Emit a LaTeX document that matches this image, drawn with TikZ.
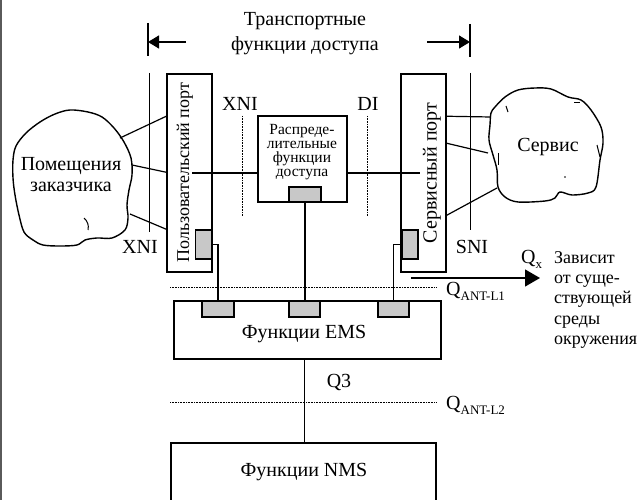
\documentclass[tikz,border=0pt]{standalone}
\usepackage{fontspec}
\setmainfont{Liberation Serif}
\usetikzlibrary{arrows.meta,calc}

\definecolor{padgray}{RGB}{200,200,200}
\definecolor{edgegray}{RGB}{90,90,90}

\tikzset{
  box/.style={draw, line width=1.5pt, fill=white, inner sep=0pt},
  pad/.style={draw, line width=1.3pt, fill=padgray, inner sep=0pt},
  wire/.style={line width=1.2pt},
  guide/.style={line width=0.8pt},
  dots/.style={line width=0.7pt, dash pattern=on 0.8pt off 0.8pt},
  cloudline/.style={line width=1.4pt, line join=round},
  lbl/.style={font=\fontsize{20}{21}\selectfont, inner sep=0pt},
  small/.style={font=\fontsize{15.5}{14}\selectfont, inner sep=0pt, align=center},
  side/.style={font=\fontsize{18}{20.3}\selectfont, inner sep=0pt, align=left},
  tip/.style={-{Triangle[length=11pt,width=13pt]}, line width=1.3pt}
}

\newcommand{\Qsub}[1]{Q\raisebox{-5pt}{\fontsize{13}{13}\selectfont #1}}

\begin{document}
\begin{tikzpicture}[x=1pt,y=-1pt]
\useasboundingbox (0,0) rectangle (638,500);
\clip (0,0) rectangle (638,500);

% frame edge on the left
\draw[edgegray, line width=1.6pt] (1,0) -- (1,500);

% title and its span arrows
\node[lbl, align=center, font=\fontsize{20}{25}\selectfont] (title) at (305,34) {Транспортные\\функции доступа};
\coordinate (lbtop) at (148,23);  \coordinate (lbbot) at (148,56);
\coordinate (rbtop) at (470,24);  \coordinate (rbbot) at (470,57);
\coordinate (lafrom) at (186,42); \coordinate (rafrom) at (427,42);
\draw[wire] (lbtop) -- (lbbot);
\draw[wire] (rbtop) -- (rbbot);
\draw[tip] (lafrom) -- (lafrom -| lbtop);
\draw[tip] (rafrom) -- (rafrom -| rbtop);

% interface guide lines
\coordinate (gl1) at (149,73); \coordinate (gl2) at (149,232);
\coordinate (gr1) at (470,73); \coordinate (gr2) at (470,230);
\draw[guide] (gl1) -- (gl2);
\draw[guide] (gr1) -- (gr2);

% ports
\node[box, minimum width=45pt, minimum height=198pt] (uport) at (189.5,173) {};
\node[box, minimum width=45pt, minimum height=198pt] (sport) at (423.5,173) {};
\node[lbl, rotate=90, font=\fontsize{18}{20}\selectfont] (utext) at (185,172.5) {Пользовательский порт};
\node[lbl, rotate=90] (stext) at (432,173) {Сервисный порт};
\node[pad, minimum width=16pt, minimum height=29pt] (upad) at (203.5,244.5) {};
\node[pad, minimum width=16pt, minimum height=29pt] (spad) at (410,244.5) {};

% distribution box
\node[box, minimum width=89pt, minimum height=86pt] (dist) at (302.5,159) {};
\node[small] (disttext) at (302,152) {Распреде-\\лительные\\функции\\доступа};
\node[pad, minimum width=32pt, minimum height=15pt] (dpad) at (305,194.5) {};

% dotted interface marks
\coordinate (dx1) at (242,116); \coordinate (dx2) at (242,216);
\coordinate (dd1) at (367,116); \coordinate (dd2) at (367,216);
\draw[dots] (dx1) -- (dx2);
\draw[dots] (dd1) -- (dd2);
\node[lbl] (xnitop) at (240,104) {XNI};
\node[lbl] (ditop) at (368,104) {DI};
\node[lbl] (xnibot) at (140,247) {XNI};
\node[lbl] (snibot) at (472,247) {SNI};

% transport path through the distribution box
\coordinate (uin) at (192,173);
\coordinate (sin) at (420,173);
\draw[wire] (uin) -- (uin -| dist.west);
\draw[wire] (dist.east |- sin) -- (sin);

% EMS and NMS
\node[box, minimum width=267pt, minimum height=58pt] (ems) at (307.5,330) {};
\node[lbl] (emstext) at (304,334) {Функции EMS};
\node[pad, minimum width=32pt, minimum height=16pt] (e1) at (218,309) {};
\node[pad, minimum width=31pt, minimum height=16pt] (e2) at (304.5,309) {};
\node[pad, minimum width=31pt, minimum height=16pt] (e3) at (393.5,309) {};
\node[box, minimum width=265pt, minimum height=70pt] (nms) at (303.5,478) {};
\node[lbl] (nmstext) at (304,472) {Функции NMS};

% management links
\draw[wire] (upad.east) -| (e1.north);
\draw[wire] (spad.west) -| (e3.north);
\draw[wire] (dpad.south) -- (dpad.south |- e2.north);
\draw[wire] (e2 |- ems.south) -- (e2 |- nms.north);

% reference-point levels
\coordinate (q1a) at (170,287); \coordinate (q1b) at (436,287);
\coordinate (q2a) at (170,402); \coordinate (q2b) at (436,402);
\draw[dots] (q1a) -- (q1b);
\draw[dots] (q2a) -- (q2b);
\node[lbl, anchor=west] (qant1) at (446,291) {\Qsub{ANT-L1}};
\node[lbl, anchor=west] (qant2) at (446,405) {\Qsub{ANT-L2}};
\node[lbl] (q3) at (339,382) {Q3};

% Qx outlet
\coordinate (qxa) at (411,278); \coordinate (qxb) at (540,278);
\draw[-{Triangle[length=15pt,width=17pt]}, line width=1.3pt] (qxa) -- (qxb);
\node[lbl, anchor=west] (qx) at (521,259) {\Qsub{x}};
\node[side, anchor=north west] (env) at (554,251) {Зависит\\от суще-\\ствующей\\среды\\окружения};

% customer premises cloud
\draw[cloudline] plot[smooth cycle, tension=0.55] coordinates {
  (13,160) (16,146) (26,133) (40,122) (55,114) (70,110) (88,112) (102,117)
  (114,128) (124,142) (131,158) (132,175) (129,190) (127,205) (128,218)
  (125,230) (112,238) (97,238) (85,240) (77,245) (60,246) (43,245) (33,240)
  (24,232) (19,215) (15,195) (13,178)};
\draw[line width=1pt] (84,218) to[bend left=30] (88,230);
\node[lbl, align=center] (cust) at (71,175) {Помещения\\заказчика};

% service cloud
\draw[cloudline] plot[smooth cycle, tension=0.55] coordinates {
  (495,107) (505,97) (518,90) (535,88) (551,89) (568,97) (581,100) (591,110)
  (601,127) (603,143) (600,160) (596,187) (588,193) (572,195) (560,192)
  (555,198) (545,201) (518,202) (505,197) (498,187) (497,170) (493,155)
  (489,140) (490,125) (491,113)};
\draw[line width=1pt] (506,106) -- (508,112);
\draw[line width=1pt] (574,103) -- (580,103);
\draw[line width=1pt] (597,145) -- (600,157);
\draw[line width=1pt] (498,153) -- (498,165);
\fill (565,177) circle (0.8pt);
\node[lbl] (serv) at (548,147) {Сервис};

% cloud attachments
\coordinate (c1) at (120,138); \coordinate (c2) at (132,165); \coordinate (c3) at (130,214);
\draw[wire] (c1) -- ($(uport.north west)+(0,43)$);
\draw[wire] (c2) -- ($(uport.north west)+(0,99)$);
\draw[wire] (c3) -- ($(uport.north west)+(0,156)$);
\coordinate (s1) at (491,117); \coordinate (s2) at (488,153); \coordinate (s3) at (497,188);
\draw[wire] ($(sport.north east)+(0,43)$) -- (s1);
\draw[wire] ($(sport.north east)+(0,70)$) -- (s2);
\draw[wire] ($(sport.north east)+(0,142)$) -- (s3);
\end{tikzpicture}
\end{document}
